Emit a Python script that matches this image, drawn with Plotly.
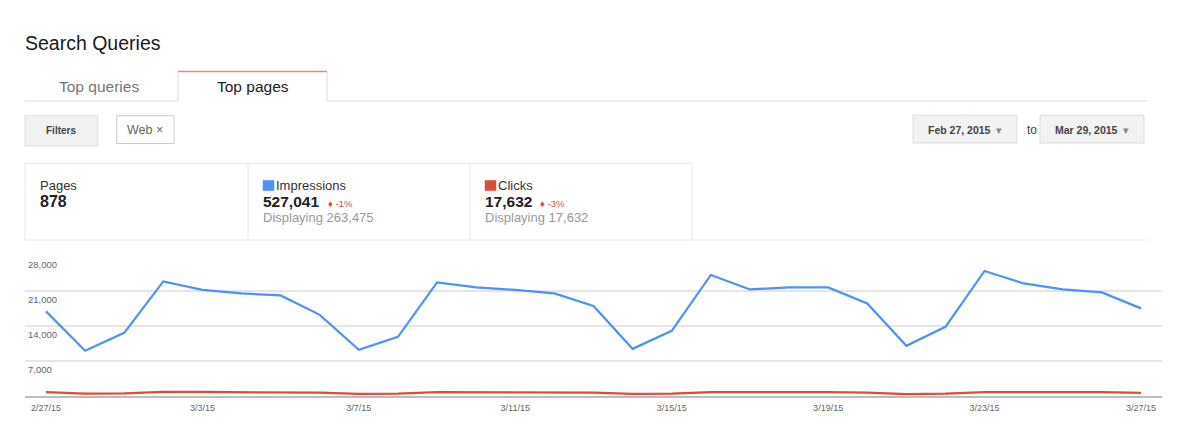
import plotly.graph_objects as go

# ---------------- data ----------------
dates = ["2/27/15", "2/28/15", "3/1/15", "3/2/15", "3/3/15", "3/4/15", "3/5/15", "3/6/15",
         "3/7/15", "3/8/15", "3/9/15", "3/10/15", "3/11/15", "3/12/15", "3/13/15", "3/14/15",
         "3/15/15", "3/16/15", "3/17/15", "3/18/15", "3/19/15", "3/20/15", "3/21/15", "3/22/15",
         "3/23/15", "3/24/15", "3/25/15", "3/26/15", "3/27/15"]
impressions = [16900, 9000, 12600, 22900, 21200, 20500, 20100, 16200, 9200, 11800,
               22700, 21700, 21200, 20500, 18000, 9400, 13000, 24200, 21300, 21700,
               21700, 18500, 10000, 13800, 25000, 22500, 21300, 20700, 17500]
clicks = [700, 400, 450, 750, 750, 750, 720, 600, 350, 420,
          720, 720, 720, 700, 600, 380, 430, 700, 740, 740,
          720, 620, 330, 400, 720, 730, 720, 700, 550]
x_tick_labels = ["2/27/15", "3/3/15", "3/7/15", "3/11/15", "3/15/15", "3/19/15", "3/23/15", "3/27/15"]
y_tick_values = [7000, 14000, 21000, 28000]
y_tick_labels = ["7,000", "14,000", "21,000", "28,000"]

# ---------------- layout helpers (pixel -> paper) ----------------
W, H = 1190, 426
FONT = "Arial, Liberation Sans, Helvetica, sans-serif"


def X(px):
    return px / W


def Y(py):
    return 1 - py / H


BLUE = "#4d90fe"
RED = "#dd4b39"

fig = go.Figure()
fig.add_trace(go.Scatter(x=dates, y=impressions, mode="lines",
                         line=dict(color=BLUE, width=2.2), name="Impressions",
                         hoverinfo="x+y"))
fig.add_trace(go.Scatter(x=dates, y=clicks, mode="lines",
                         line=dict(color=RED, width=2.2), name="Clicks",
                         hoverinfo="x+y"))

shapes = []
annotations = []


def rect(x0, y0, x1, y1, fill="rgba(0,0,0,0)", line="#dddddd", lw=1):
    shapes.append(dict(type="rect", xref="paper", yref="paper",
                       x0=X(x0), x1=X(x1), y0=Y(y1), y1=Y(y0),
                       fillcolor=fill, line=dict(color=line, width=lw), layer="below"))


def hline(x0, x1, y, color="#dddddd", lw=1):
    shapes.append(dict(type="line", xref="paper", yref="paper",
                       x0=X(x0), x1=X(x1), y0=Y(y), y1=Y(y),
                       line=dict(color=color, width=lw), layer="below"))


def vline(x, y0, y1, color="#dddddd", lw=1):
    shapes.append(dict(type="line", xref="paper", yref="paper",
                       x0=X(x), x1=X(x), y0=Y(y0), y1=Y(y1),
                       line=dict(color=color, width=lw), layer="below"))


def text(x, y, s, size=12, color="#222222", xanchor="left", bold=False):
    if bold:
        s = "<b>" + s + "</b>"
    if xanchor == "left":
        x -= 2  # compensate annotation padding
    annotations.append(dict(x=X(x), y=Y(y), xref="paper", yref="paper", text=s,
                            showarrow=False, xanchor=xanchor, yanchor="middle",
                            font=dict(family=FONT, size=size, color=color)))


# title
text(25, 43, "Search Queries", size=19.5, color="#1a1a1a")

# tabs
hline(25, 178, 101, "#dcdcdc", 1)
hline(327, 1147, 101, "#dcdcdc", 1)
vline(178, 72, 101, "#dcdcdc", 1)
vline(327, 72, 101, "#dcdcdc", 1)
hline(178, 327, 71.5, "#ec8a7c", 1.5)
text(99, 87, "Top queries", size=15.5, color="#777777", xanchor="center")
text(252.5, 87, "Top pages", size=15.5, color="#222222", xanchor="center")

# filter buttons
rect(25, 115.7, 97.7, 146, fill="#f2f2f2", line="#dedede")
text(61.5, 130.5, "Filters", size=10, color="#444444", xanchor="center", bold=True)
rect(116.7, 115.7, 174, 143.5, fill="#ffffff", line="#cccccc")
text(145, 130, "Web ×", size=12.5, color="#666666", xanchor="center")

# date pickers
rect(913, 115, 1017, 143, fill="#f2f2f2", line="#dedede")
text(965, 129.5, "<b>Feb 27, 2015</b>  <span style='color:#888888'>▾</span>", size=10.5,
     color="#444444", xanchor="center")
text(1032, 129.5, "to", size=12, color="#444444", xanchor="center")
rect(1040, 115, 1144, 143, fill="#f2f2f2", line="#dedede")
text(1092, 129.5, "<b>Mar 29, 2015</b>  <span style='color:#888888'>▾</span>", size=10.5,
     color="#444444", xanchor="center")

# stats panel
rect(25, 163.5, 692, 240, fill="#ffffff", line="#e6e6e6")
vline(248, 163.5, 240, "#e6e6e6", 1)
vline(470, 163.5, 240, "#e6e6e6", 1)
hline(692, 1147, 240, "#ececec", 1)

text(40, 185.5, "Pages", size=13, color="#333333")
text(40, 201.5, "878", size=16, color="#222222", bold=True)

rect(263, 180.5, 274, 190.5, fill=BLUE, line=BLUE, lw=0.5)
text(275.5, 185.5, "Impressions", size=13, color="#333333")
text(262.5, 202, "527,041", size=15.5, color="#222222", bold=True)
text(328, 203, "♦ -1%", size=9.5, color=RED)
text(262.5, 218, "Displaying 263,475", size=13, color="#999999")

rect(485, 180.5, 496, 190.5, fill=RED, line=RED, lw=0.5)
text(497.5, 185.5, "Clicks", size=13, color="#333333")
text(484.5, 202, "17,632", size=15.5, color="#222222", bold=True)
text(540, 203, "♦ -3%", size=9.5, color=RED)
text(484.5, 218, "Displaying 17,632", size=13, color="#999999")

# y-axis value labels drawn inside the plot, just under each gridline
for v, lab in zip(y_tick_values, y_tick_labels):
    annotations.append(dict(x=X(26), y=v, xref="paper", yref="y", text=lab,
                            showarrow=False, xanchor="left", yanchor="top", yshift=-1,
                            font=dict(family=FONT, size=9.5, color="#666666")))

# ---------------- axes ----------------
px_per_day = (1141 - 46) / 28.0
pad_left = (46 - 25) / px_per_day
pad_right = (1162 - 1141) / px_per_day

fig.update_layout(
    width=W, height=H,
    margin=dict(l=0, r=0, t=0, b=0),
    paper_bgcolor="#ffffff", plot_bgcolor="#ffffff",
    showlegend=False,
    shapes=shapes, annotations=annotations,
    font=dict(family=FONT),
    xaxis=dict(domain=[X(25), X(1162)], type="category",
               range=[-pad_left, 28 + pad_right],
               tickmode="array", tickvals=x_tick_labels, ticktext=x_tick_labels,
               showgrid=False, zeroline=False, showline=True,
               linecolor="#bdbdbd", linewidth=1.5, ticks="",
               ticklabelstandoff=3,
               tickfont=dict(family=FONT, size=9, color="#666666")),
    yaxis=dict(domain=[Y(395.7), Y(255)], range=[0, 28200],
               tickmode="array", tickvals=y_tick_values,
               showticklabels=False,
               showgrid=True, gridcolor="#e6e6e6", gridwidth=2,
               zeroline=False, showline=False, ticks=""),
)

fig.write_html("out.html", config={"displayModeBar": False},
               post_script="document.body.style.margin='0';document.body.style.padding='0';")
